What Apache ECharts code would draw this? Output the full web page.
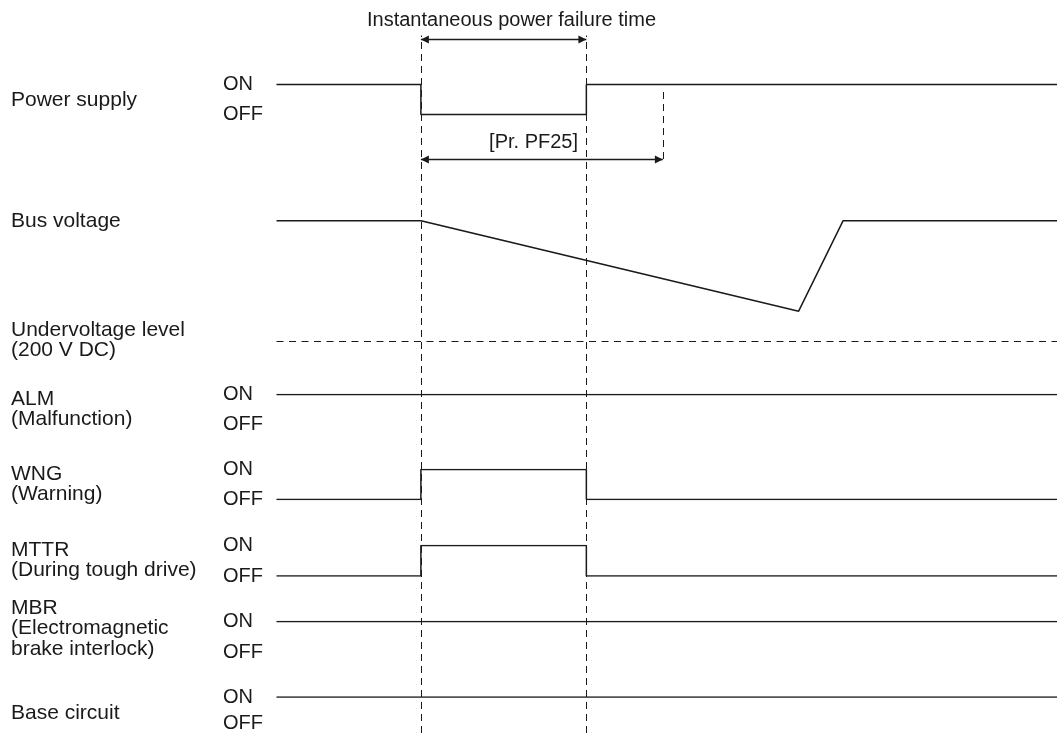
<!DOCTYPE html>
<html>
<head>
<meta charset="utf-8">
<script src="https://cdn.jsdelivr.net/npm/echarts@6/dist/echarts.min.js"></script>
<style>
html,body{margin:0;padding:0;background:#fff;}
#chart{width:1057px;height:733px;}
</style>
</head>
<body>
<div id="chart"></div>
<script>
// ---- data (time in arbitrary units 0..100) ----
const powerFailTime = 18.5;
const powerRestoreTime = 39.7;
const pf25EndTime = 49.5;
const timeRange = [0, 100];

const powerSupply = [[0, 1], [18.5, 0], [39.7, 1], [100, 1]];
const busVoltage = [[0, 300], [18.5, 300], [66.9, 225], [72.6, 300], [100, 300]];
const busRange = [200, 300];
const undervoltageLevel = 200;
const alm = [[0, 1], [100, 1]];
const wng = [[0, 0], [18.5, 1], [39.7, 0], [100, 0]];
const mttr = [[0, 0], [18.5, 1], [39.7, 0], [100, 0]];
const mbr = [[0, 1], [100, 1]];
const baseCircuit = [[0, 1], [100, 1]];

const stateLabels = ['OFF', 'ON'];
const signalNames = [
  'Power supply',
  'Bus voltage',
  'Undervoltage level\n(200 V DC)',
  'ALM\n(Malfunction)',
  'WNG\n(Warning)',
  'MTTR\n(During tough drive)',
  'MBR\n(Electromagnetic\nbrake interlock)',
  'Base circuit'
];
const topNote = 'Instantaneous power failure time';
const pf25Note = '[Pr. PF25]';

// ---- layout ----
const FONT = '"Liberation Sans", Arial, Helvetica, sans-serif';
const INK = '#1a1a1a';
const LEFT = 276.5;
const dash = [7, 5];

// grids: overlay, power, bus, alm, wng, mttr, mbr, base
const grids = [
  {left: LEFT, right: 0, top: 35.5, bottom: 0},
  {left: LEFT, right: 0, top: 39.5, height: 135},
  {left: LEFT, right: 0, top: 220.7, height: 120.6},
  {left: LEFT, right: 0, top: 394.5, height: 30},
  {left: LEFT, right: 0, top: 469.5, height: 30},
  {left: LEFT, right: 0, top: 545.5, height: 30.5},
  {left: LEFT, right: 0, top: 621.5, height: 30.5},
  {left: LEFT, right: 0, top: 697, height: 30}
];

const xAxes = grids.map((g, i) => ({
  gridIndex: i, type: 'value', min: timeRange[0], max: timeRange[1], show: false
}));

function stateAxis(i, min, max, interval) {
  return {
    gridIndex: i, type: 'value', min: min, max: max, interval: interval,
    axisLine: {show: false}, axisTick: {show: false}, splitLine: {show: false},
    axisLabel: {
      show: true, align: 'left', margin: LEFT - 223,
      fontFamily: FONT, fontSize: 20, color: INK,
      formatter: v => (v === 0 ? stateLabels[0] : (v === 1 ? stateLabels[1] : ''))
    }
  };
}

const yAxes = [
  {gridIndex: 0, type: 'value', min: 0, max: 1, show: false},
  stateAxis(1, -2, 2.5, 0.5),
  {gridIndex: 2, type: 'value', min: busRange[0], max: busRange[1], show: false},
  stateAxis(3, 0, 1, 1),
  stateAxis(4, 0, 1, 1),
  stateAxis(5, 0, 1, 1),
  stateAxis(6, 0, 1, 1),
  stateAxis(7, 0, 1, 1)
];

const lineStyle = {color: INK, width: 1.5};
function signal(i, data, extra) {
  return Object.assign({
    type: 'line', xAxisIndex: i, yAxisIndex: i, data: data, step: 'end',
    symbol: 'none', lineStyle: lineStyle, animation: false, silent: true
  }, extra || {});
}

const arrowStyle = {color: INK, width: 1.4, type: 'solid'};
const series = [
  {
    type: 'line', xAxisIndex: 0, yAxisIndex: 0, data: [[0, 0]], symbol: 'none',
    lineStyle: {opacity: 0}, animation: false, silent: true,
    markLine: {
      silent: true, animation: false, symbol: 'none', label: {show: false},
      lineStyle: {color: INK, width: 1, type: dash},
      data: [{xAxis: powerFailTime}, {xAxis: powerRestoreTime}]
    }
  },
  signal(1, powerSupply, {
    markLine: {
      silent: true, animation: false, label: {show: false},
      symbol: ['triangle', 'triangle'], symbolSize: [8, 8], symbolOffset: [[0, 4], [0, 4]],
      lineStyle: arrowStyle,
      data: [
        [{coord: [powerFailTime, 2.5]}, {coord: [powerRestoreTime, 2.5]}],
        [{coord: [powerFailTime, -1.5]}, {coord: [pf25EndTime, -1.5]}],
        [{coord: [pf25EndTime, 0.75], symbol: 'none', lineStyle: {type: dash, width: 1}},
         {coord: [pf25EndTime, -1.65], symbol: 'none'}]
      ]
    }
  }),
  {
    type: 'line', xAxisIndex: 2, yAxisIndex: 2, data: busVoltage,
    symbol: 'none', lineStyle: lineStyle, animation: false, silent: true,
    markLine: {
      silent: true, animation: false, symbol: 'none', label: {show: false},
      lineStyle: {color: INK, width: 1, type: [7, 5.5]},
      data: [{yAxis: undervoltageLevel}]
    }
  },
  signal(3, alm),
  signal(4, wng),
  signal(5, mttr),
  signal(6, mbr),
  signal(7, baseCircuit)
];

// label first-line centres
const labelY = [100, 221.7, 330, 399, 474, 550, 608, 713];
const graphics = signalNames.map((t, i) => ({
  type: 'text', left: 11, top: labelY[i] - 10.5, silent: true,
  style: {text: t, font: '21px ' + FONT, fill: INK, lineHeight: 20.5}
}));
graphics.push({
  type: 'text', silent: true, x: 511.5, y: 20,
  style: {text: topNote, font: '20px ' + FONT, fill: INK, align: 'center', verticalAlign: 'middle'}
});
graphics.push({
  type: 'text', silent: true, x: 578, y: 142,
  style: {text: pf25Note, font: '20px ' + FONT, fill: INK, align: 'right', verticalAlign: 'middle'}
});

const chart = echarts.init(document.getElementById('chart'), null, {renderer: 'canvas'});
chart.setOption({
  backgroundColor: '#ffffff',
  animation: false,
  grid: grids,
  xAxis: xAxes,
  yAxis: yAxes,
  series: series,
  graphic: graphics
});
</script>
</body>
</html>
